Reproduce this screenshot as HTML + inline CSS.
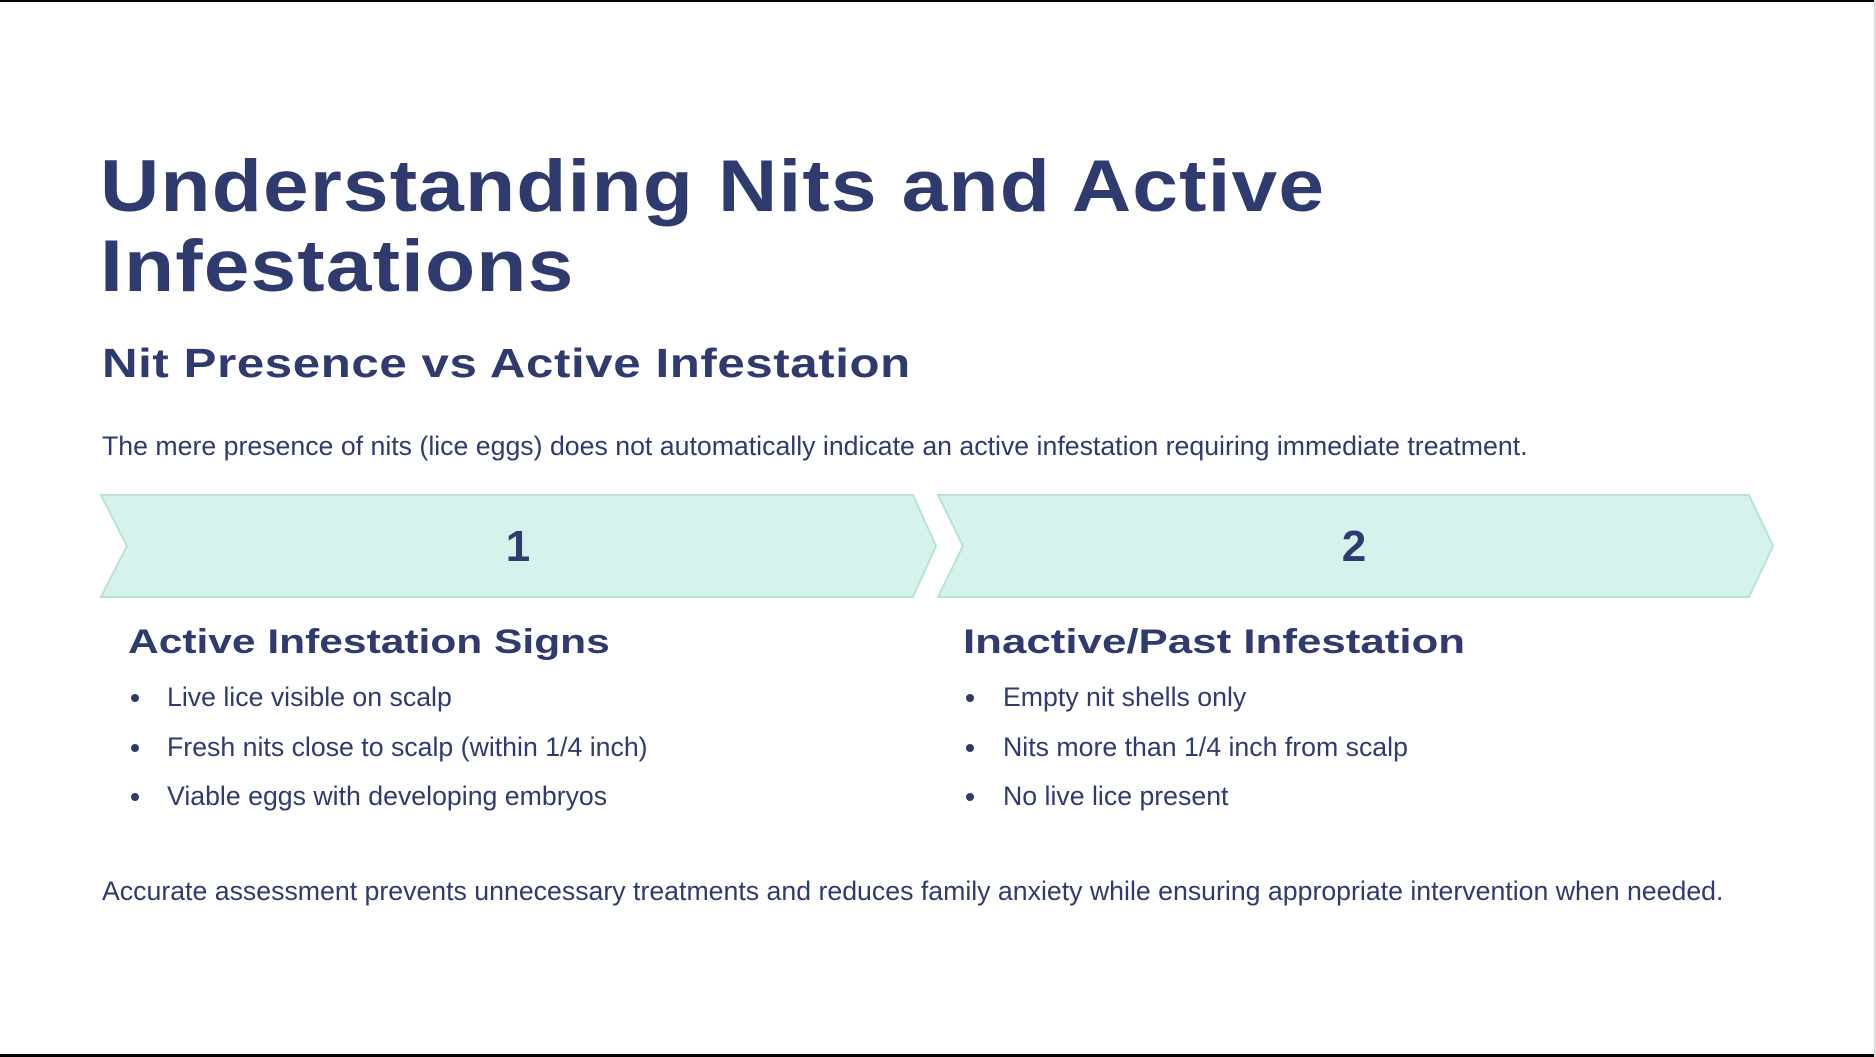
<!DOCTYPE html>
<html><head><meta charset="utf-8"><style>
body{margin:0;width:1876px;height:1057px;background:#fff;position:relative;overflow:hidden;font-family:"Liberation Sans",sans-serif;color:#2f3b6e}
.a{position:absolute;white-space:nowrap;transform-origin:0 0}
.h{font-weight:bold}
.b{font-size:26.7px}
.dot{position:absolute;width:8px;height:8px;border-radius:50%;background:#2f3b6e}
</style></head><body>
<div style="position:absolute;left:0;top:0;width:1876px;height:2px;background:#000"></div>
<div style="position:absolute;left:0;top:1054px;width:1876px;height:3px;background:#000"></div>
<div style="position:absolute;left:1874px;top:0;width:2px;height:1057px;background:#ddd"></div>

<div class="a h" style="left:100px;top:147px;font-size:73px;line-height:80px;letter-spacing:1px;transform:scaleX(1.125)">Understanding Nits and Active<br>Infestations</div>
<div class="a h" style="left:102px;top:340px;font-size:41px;letter-spacing:0.5px;transform:scaleX(1.2)">Nit Presence vs Active Infestation</div>
<div class="a b" style="left:102px;top:431px">The mere presence of nits (lice eggs) does not automatically indicate an active infestation requiring immediate treatment.</div>

<svg style="position:absolute;left:0;top:0" width="1876" height="1057">
<polygon points="101,495 913,495 936,546 913,597 101,597 127,546" fill="#d5f3ec" stroke="#b8e2d8" stroke-width="2"/>
<polygon points="938,495 1749,495 1773,546 1749,597 938,597 963,546" fill="#d5f3ec" stroke="#b8e2d8" stroke-width="2"/>
<text x="518" y="561" text-anchor="middle" font-family="Liberation Sans" font-weight="bold" font-size="44" fill="#2f3b6e">1</text>
<text x="1354" y="561" text-anchor="middle" font-family="Liberation Sans" font-weight="bold" font-size="44" fill="#2f3b6e">2</text>
</svg>

<div class="a h" style="left:128px;top:623px;font-size:34px;transform:scaleX(1.25)">Active Infestation Signs</div>
<div class="dot" style="left:131px;top:694px"></div>
<div class="a b" style="left:167px;top:682px">Live lice visible on scalp</div>
<div class="dot" style="left:131px;top:744px"></div>
<div class="a b" style="left:167px;top:732px">Fresh nits close to scalp (within 1/4 inch)</div>
<div class="dot" style="left:131px;top:793px"></div>
<div class="a b" style="left:167px;top:781px">Viable eggs with developing embryos</div>

<div class="a h" style="left:963px;top:623px;font-size:34px;transform:scaleX(1.29)">Inactive/Past Infestation</div>
<div class="dot" style="left:966px;top:694px"></div>
<div class="a b" style="left:1003px;top:682px">Empty nit shells only</div>
<div class="dot" style="left:966px;top:744px"></div>
<div class="a b" style="left:1003px;top:732px">Nits more than 1/4 inch from scalp</div>
<div class="dot" style="left:966px;top:793px"></div>
<div class="a b" style="left:1003px;top:781px">No live lice present</div>

<div class="a b" style="left:102px;top:876px">Accurate assessment prevents unnecessary treatments and reduces family anxiety while ensuring appropriate intervention when needed.</div>
</body></html>
